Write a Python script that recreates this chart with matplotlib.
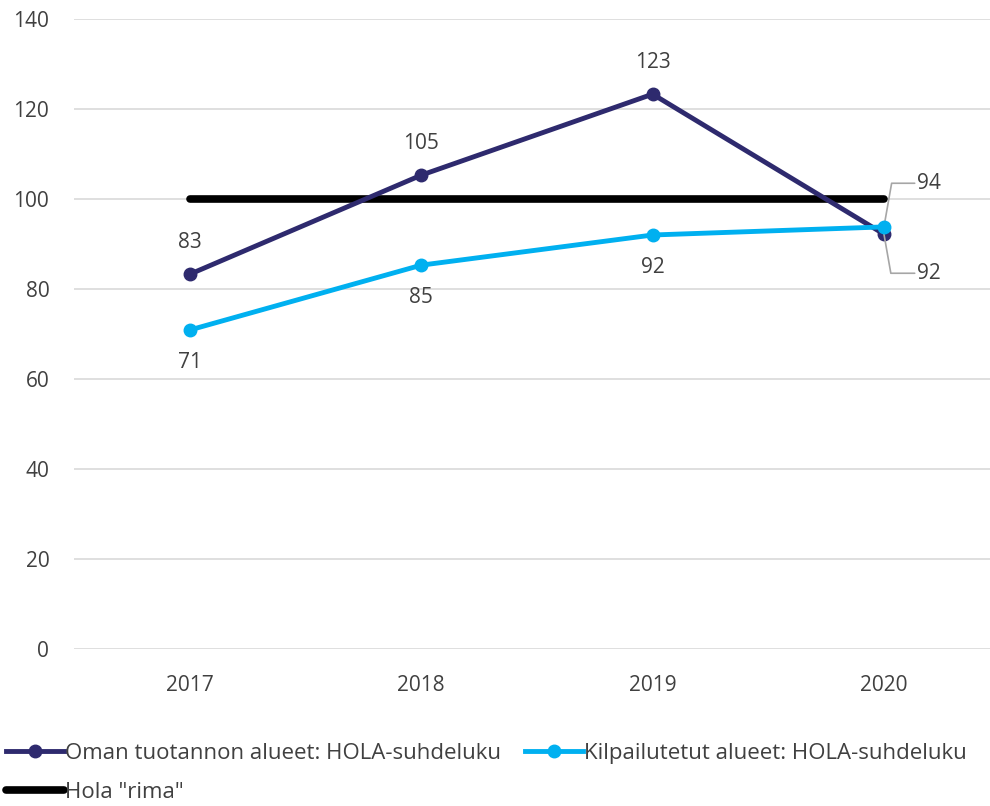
import matplotlib.pyplot as plt
from matplotlib.lines import Line2D

plt.rcParams['font.family'] = ['Open Sans', 'DejaVu Sans']

years = ['2017', '2018', '2019', '2020']
oma = [83.3, 105.3, 123.3, 92.2]
kilp = [70.9, 85.3, 92.0, 93.8]
rima = [100, 100, 100, 100]

oma_lbl = ['83', '105', '123', '92']
kilp_lbl = ['71', '85', '92', '94']

c_oma = '#2e2a6e'
c_kilp = '#00b0f0'
txt = '#404040'

fig = plt.figure(figsize=(9.9, 8.06), dpi=100)
ax = fig.add_axes([74.3 / 990, 1 - 649 / 806, 925.3 / 990, 630 / 806])

x = range(len(years))
ax.plot(x, rima, color='black', lw=5.5, solid_capstyle='round', zorder=2)
ax.plot(x, oma, color=c_oma, lw=3.5, marker='o', ms=9, zorder=3)
ax.plot(x, kilp, color=c_kilp, lw=3.5, marker='o', ms=9, zorder=4)

ax.set_xlim(-0.5, 3.5)
ax.set_ylim(0, 140)
ax.set_yticks(range(0, 141, 20))
ax.set_xticks(list(x))
ax.set_xticklabels(years)
ax.yaxis.grid(True, color='#d9d9d9', lw=1.2)
ax.set_axisbelow(True)
for s in ax.spines.values():
    s.set_visible(False)
ax.tick_params(length=0, labelsize=15, labelcolor=txt)
ax.tick_params(axis='y', pad=18)
ax.tick_params(axis='x', pad=19)

# data labels
for i in range(3):
    ax.annotate(oma_lbl[i], (i, oma[i]), xytext=(0, 15), textcoords='offset points',
                ha='center', va='bottom', fontsize=15, color=txt)
    ax.annotate(kilp_lbl[i], (i, kilp[i]), xytext=(0, -16), textcoords='offset points',
                ha='center', va='top', fontsize=15, color=txt)

# 2020 labels with leader lines
ax.annotate(kilp_lbl[3], (3, kilp[3]), xytext=(3.145, 103.5), ha='left', va='center',
            fontsize=15, color=txt,
            arrowprops=dict(arrowstyle='-', color='#a6a6a6', lw=1.2,
                            connectionstyle='angle,angleA=0,angleB=80,rad=0',
                            shrinkA=0, shrinkB=0))
ax.annotate(oma_lbl[3], (3, oma[3]), xytext=(3.145, 83.5), ha='left', va='center',
            fontsize=15, color=txt,
            arrowprops=dict(arrowstyle='-', color='#a6a6a6', lw=1.2,
                            connectionstyle='angle,angleA=0,angleB=-80,rad=0',
                            shrinkA=0, shrinkB=0))

# legend order: column-major fill -> Oman, Hola in col 1; Kilp in col 2
handles = [
    Line2D([], [], color=c_oma, lw=3.5, marker='o', ms=9),
    Line2D([], [], color='black', lw=5.5, solid_capstyle='round'),
    Line2D([], [], color=c_kilp, lw=3.5, marker='o', ms=9),
]
labels = ['Oman tuotannon alueet: HOLA-suhdeluku',
          'Hola "rima"',
          'Kilpailutetut alueet: HOLA-suhdeluku']
fig.legend(handles, labels, loc='upper left', bbox_to_anchor=(0.006, 1 - 743 / 806),
           ncol=2, frameon=False, fontsize=16, labelcolor=txt, handlelength=2.6,
           handletextpad=0.05, columnspacing=1.1, borderaxespad=0, borderpad=0.0,
           labelspacing=0.8)

fig.savefig('out.png', dpi=100)
